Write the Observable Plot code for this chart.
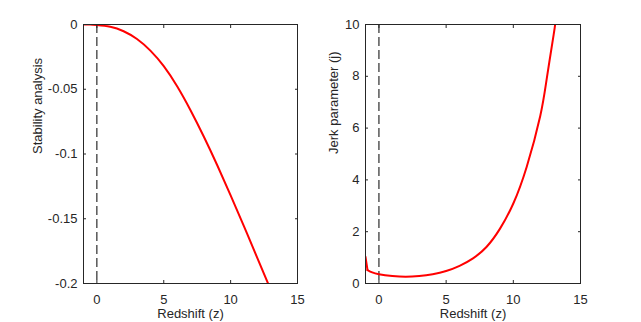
<!DOCTYPE html>
<html>
<head>
<meta charset="utf-8">
<script src="https://cdn.jsdelivr.net/npm/d3@7"></script>
<script src="https://cdn.jsdelivr.net/npm/@observablehq/plot@0.6"></script>
<style>
  html, body { margin: 0; padding: 0; background: #fff; }
  #wrap { display: flex; width: 641px; height: 322px; overflow: hidden; }
  #wrap svg { display: block; }
</style>
</head>
<body>
<div id="wrap"></div>
<script>
// Stability analysis vs redshift
const zStab = [-1, -0.5, 0, 1, 2, 3, 4, 5, 6, 7, 8, 9, 10, 11, 12, 12.8];
const stability = [0, 0, -0.0004, -0.0018, -0.0052, -0.0112, -0.0202, -0.0322, -0.0477, -0.0662, -0.0867, -0.1087, -0.1319, -0.1559, -0.1804, -0.2];

// Jerk parameter vs redshift
const zJerk = [-1, -0.85, -0.5, 0, 1, 2, 3, 4, 5, 6, 7, 8, 9, 10, 11, 12, 12.5, 13, 13.11];
const jerk = [1.03, 0.52, 0.43, 0.36, 0.29, 0.26, 0.29, 0.36, 0.48, 0.68, 0.97, 1.41, 2.11, 3.09, 4.51, 6.46, 7.95, 9.6, 10];
const jerkKink = -0.85; // sharp corner in the jerk curve

const refLine = [0];
const xTicks = [0, 5, 10, 15];
const stabTicks = [0, -0.05, -0.1, -0.15, -0.2];
const jerkTicks = [0, 2, 4, 6, 8, 10];
const xLabel = "Redshift (z)";
const stabLabel = "Stability analysis";
const jerkLabel = "Jerk parameter (j)";

const ink = "#262626";
const fontStyle = { fontFamily: "'Liberation Sans', Arial, Helvetica, sans-serif", fontSize: "13px", color: ink, background: "#fff", overflow: "visible" };
const fmt = d => String(d);

function panel({zs, vs, kink, yDomain, yTicks, yLabel, width, marginLeft, marginRight, yLabelDx}) {
  const data = zs.map((z, i) => ({z, v: vs[i]}));
  const head = kink == null ? [] : data.filter(d => d.z <= kink);
  const body = kink == null ? data : data.filter(d => d.z >= kink);
  const lineOpts = { x: "z", y: "v", stroke: "#ff0000", strokeWidth: 2, clip: true, strokeLinejoin: "round" };
  return Plot.plot({
    width, height: 322,
    marginLeft, marginRight, marginTop: 24, marginBottom: 39,
    style: fontStyle,
    x: { domain: [-1, 15] },
    y: { domain: yDomain },
    marks: [
      Plot.ruleX(refLine, { x: d => d, stroke: "#000", strokeWidth: 1, strokeDasharray: "9,4" }),
      Plot.line(head, { ...lineOpts, curve: "linear" }),
      Plot.line(body, { ...lineOpts, curve: "natural" }),
      Plot.frame({ stroke: ink, strokeWidth: 1 }),
      Plot.axisX(xTicks, { anchor: "bottom", tickSize: -3, fill: "none", stroke: ink, label: null }),
      Plot.axisX(xTicks, { anchor: "top", tickSize: -3, fill: "none", stroke: ink, label: null }),
      Plot.axisY(yTicks, { anchor: "left", tickSize: -3, fill: "none", stroke: ink, label: null }),
      Plot.axisY(yTicks, { anchor: "right", tickSize: -3, fill: "none", stroke: ink, label: null }),
      Plot.axisX(xTicks, { anchor: "bottom", tickSize: 0, tickPadding: 11, fill: ink, tickFormat: fmt, label: null }),
      Plot.axisY(yTicks, { anchor: "left", tickSize: 0, tickPadding: 6, fill: ink, tickFormat: fmt, label: null }),
      Plot.text([xLabel], { text: d => d, frameAnchor: "bottom", dy: 30, lineAnchor: "middle", fill: ink, fontSize: 13 }),
      Plot.text([yLabel], { text: d => d, frameAnchor: "left", dx: yLabelDx, rotate: -90, fill: ink, fontSize: 13 })
    ]
  });
}

const wrap = document.getElementById("wrap");
wrap.appendChild(panel({
  zs: zStab, vs: stability, kink: null, yDomain: [-0.2, 0], yTicks: stabTicks, yLabel: stabLabel,
  width: 320, marginLeft: 83, marginRight: 23, yLabelDx: -46
}));
wrap.appendChild(panel({
  zs: zJerk, vs: jerk, kink: jerkKink, yDomain: [0, 10], yTicks: jerkTicks, yLabel: jerkLabel,
  width: 321, marginLeft: 45, marginRight: 61, yLabelDx: -32
}));
</script>
</body>
</html>
